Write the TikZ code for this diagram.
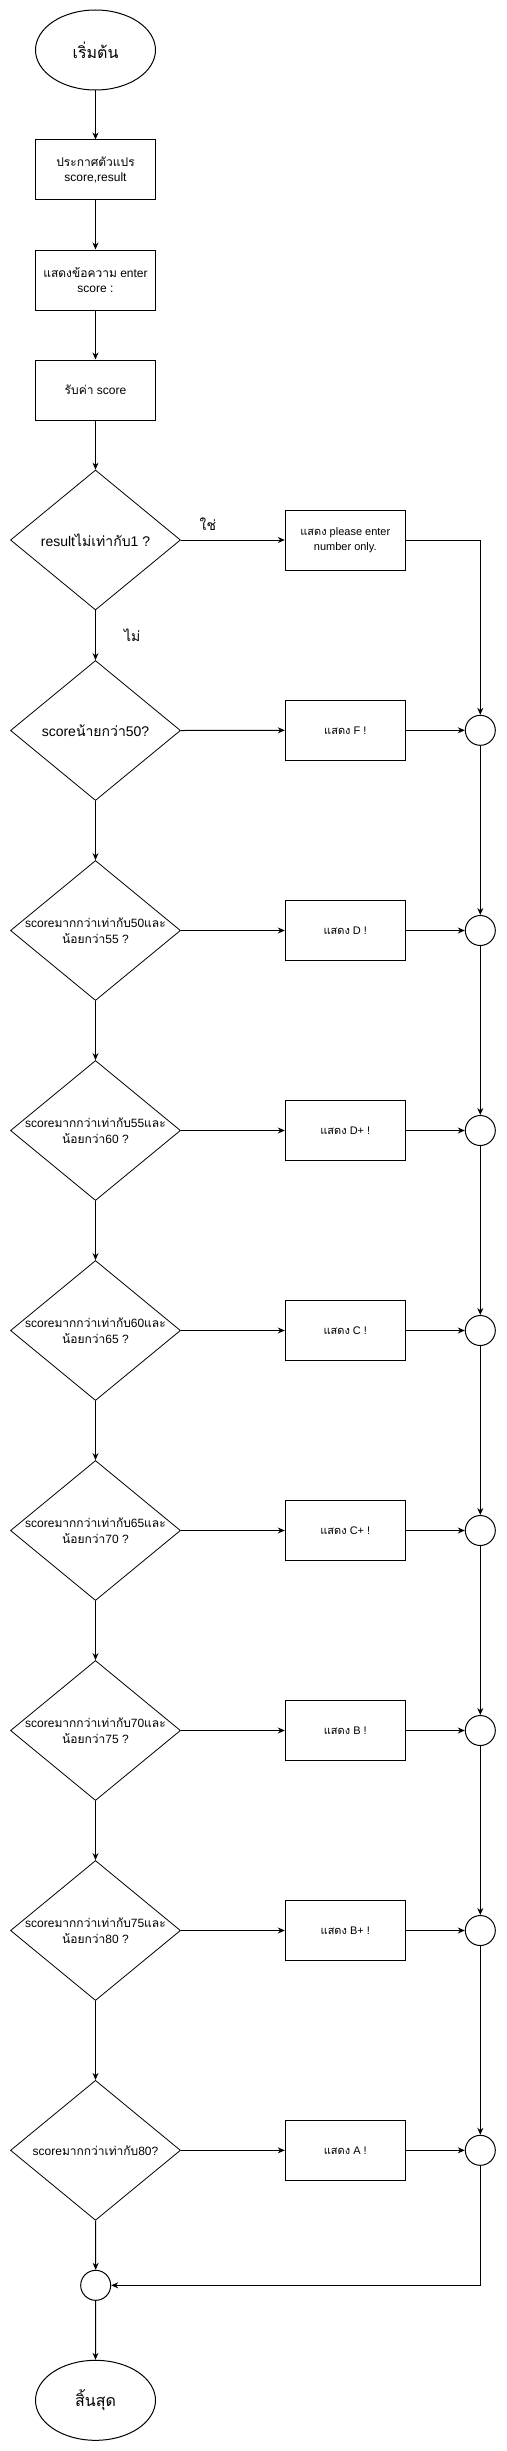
\documentclass[tikz,border=0pt]{standalone}
\usepackage{fontspec}
\setmainfont{Liberation Sans}
\newfontfamily\thaifont[Script=Thai]{Loma}
\newcommand\thx[1]{{\thaifont #1}}
\usetikzlibrary{shapes.geometric,arrows.meta}
\tikzset{
  term/.style={ellipse, draw, line width=1pt, minimum width=120pt, minimum height=80pt, inner sep=0pt, font=\fontsize{16}{19}\selectfont},
  proc/.style={rectangle, draw, line width=1pt, minimum width=120pt, minimum height=60pt, inner sep=2pt, align=center, font=\fontsize{12}{14.5}\selectfont},
  procs/.style={proc, font=\fontsize{11}{14.5}\selectfont},
  dec/.style={diamond, draw, line width=0.8pt, minimum width=170pt, minimum height=140pt, inner sep=0pt},
  dtext/.style={align=center, inner sep=0pt, font=\fontsize{12}{16}\selectfont},
  dtextbig/.style={align=center, inner sep=0pt, font=\fontsize{14}{17}\selectfont},
  conn/.style={circle, draw, line width=1pt, minimum size=30pt, inner sep=0pt},
  arr/.style={draw, line width=1pt, -{Stealth[length=7pt,width=6pt]}},
  lbl/.style={inner sep=0pt, font=\fontsize{14}{17}\selectfont\thaifont}
}
\begin{document}
\begin{tikzpicture}[x=1pt,y=-1pt]
\useasboundingbox (0,0) rectangle (506,2451);
% main column
\node[term] (start) at (95.5,50) {\thx{เริ่มต้น}};
\node[proc] (b1) at (95.5,170) {\thx{ประกาศตัวแปร}\\score,result};
\node[proc] (b2) at (95.5,280) {\thx{แสดงข้อความ} enter\\score :};
\node[proc] (b3) at (95.5,390) {\thx{รับค่า} score};
\node[dec, label={[dtextbig]center:result\thx{ไม่เท่ากับ}1 ?}] (d1) at (95.5,540) {};
\node[procs] (py) at (345.3,540) {\thx{แสดง} please enter\\number only.};
\node[dec, label={[dtextbig]center:score\thx{น้ายกว่า}50?}] (d2) at (95.5,730.5) {};
\node[procs] (g2) at (345.3,730.3) {\thx{แสดง} F !};
\node[conn] (c2) at (480.3,730.3) {};
\foreach \k/\y/\lo/\hi/\gr in {3/930.5/50/55/D, 4/1130.5/55/60/D+, 5/1330.5/60/65/C, 6/1530.5/65/70/C+, 7/1730.5/70/75/B, 8/1930.5/75/80/B+}{
  \node[dec, label={[dtext]center:score\thx{มากกว่าเท่ากับ}\lo\thx{และ}\\\thx{น้อยกว่า}\hi\ ?}] (d\k) at (95.5,\y) {};
  \node[procs] (g\k) at (345.3,\y) {\thx{แสดง} \gr\ !};
  \node[conn] (c\k) at (480.3,\y) {};
}
\node[dec, label={[dtext]center:score\thx{มากกว่าเท่ากับ}80?}] (d9) at (95.5,2150.3) {};
\node[procs] (g9) at (345.3,2150.3) {\thx{แสดง} A !};
\node[conn] (c9) at (480.3,2150.3) {};
\node[conn] (m) at (95.7,2285.3) {};
\node[term] (end) at (95.5,2400.3) {\thx{สิ้นสุด}};
% connectors
\draw[arr] (start.south) -- (b1.north);
\draw[arr] (b1.south) -- (b2.north);
\draw[arr] (b2.south) -- (b3.north);
\draw[arr] (b3.south) -- (d1.north);
\draw[arr] (d1.east) -- node[lbl, pos=0.26, above=9pt] {ใช่} (py.west);
\draw[arr] (d1.south) -- node[lbl, right=28pt, pos=0.5] {ไม่} (d2.north);
\draw[arr] (py.east) -| (c2.north);
\foreach \k in {2,...,9}{
  \draw[arr] (d\k.east) -- (g\k.west);
  \draw[arr] (g\k.east) -- (c\k.west);
}
\foreach \a/\b in {2/3,3/4,4/5,5/6,6/7,7/8,8/9}{
  \draw[arr] (d\a.south) -- (d\b.north);
  \draw[arr] (c\a.south) -- (c\b.north);
}
\draw[arr] (c9.south) |- (m.east);
\draw[arr] (d9.south) -- (m.north);
\draw[arr] (m.south) -- (end.north);
\end{tikzpicture}
\end{document}
